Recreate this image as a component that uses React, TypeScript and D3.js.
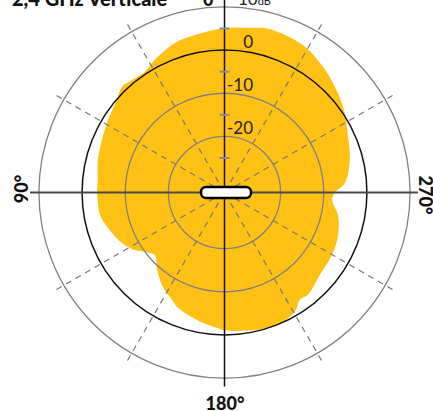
import * as d3 from 'd3';

// pattern: angle (deg, counter-clockwise from top) and gain (dB)
const patternAngles = [
  0, 10.6, 18.3, 23.6, 29.2, 33.4, 39.4, 44.2, 49.3, 58.1, 66.8, 75.6, 84.4, 90,
  100.2, 106.9, 116.2, 122.7, 126.8, 132, 138.2, 146, 154, 157.5, 167.8, 176.8, 180,
  193.3, 203, 210.5, 215.1, 219.2, 229.2, 239.8, 249.5, 258.8, 266, 270,
  274.5, 284.5, 294.2, 305.8, 317.6, 323.6, 332, 344.4, 351.2,
];
const patternGain = [
  0.1, -0.9, -1.5, -2.5, -3.6, -4.5, -4.3, -3.9, -5.1, -6.2, -7.1, -7.7, -8.5, -8.5,
  -8.7, -9.8, -11.5, -13.3, -15.0, -16.3, -14.5, -12.1, -10.3, -9.3, -7.8, -6.6, -6.1,
  -5.3, -5.1, -5.9, -7.6, -7.4, -8.8, -9.2, -9.9, -11.2, -13, -12.4,
  -10, -8, -6.6, -4.1, -1.8, -0.7, 0.7, 1.3, 0.6,
];

const ringLevels = [5, -5, -15, -25];
const tickLevels = [0, -10, -20, -30];
const tickLabels = ['0', '-10', '-20'];
const dashedAngles = [30, 60, 120, 150, 210, 240, 300, 330];

const W = 433;
const H = 411;
const cx = 224.5;
const cy = 192.5;
const YELLOW = '#FFC114';

export default function App() {
  const r = d3.scaleLinear().domain([-38, 0]).range([0, 164]);
  const toRad = (deg: number) => (deg * Math.PI) / 180;

  const points = patternAngles.map((a, i) => [a, patternGain[i]] as [number, number]);
  const pattern = d3
    .lineRadial<[number, number]>()
    .angle((d) => -toRad(d[0]))
    .radius((d) => r(d[1]))
    .curve(d3.curveCatmullRomClosed.alpha(0.5))(points) ?? '';

  const dashEnd = 195;

  return (
    <svg
      width={W}
      height={H}
      viewBox={`0 0 ${W} ${H}`}
      style={{ position: 'absolute', left: 0, top: 0, background: '#fff' }}
    >
      <g transform={`translate(${cx},${cy})`}>
        <path d={pattern} fill={YELLOW} />

        {ringLevels.map((lv) => (
          <circle
            key={lv}
            r={r(lv)}
            fill="none"
            stroke={lv === -5 ? '#111' : '#808080'}
            strokeWidth={lv === -5 ? 1.5 : 1.3}
          />
        ))}

        {dashedAngles.map((a) => (
          <line
            key={a}
            x1={0}
            y1={0}
            x2={-Math.sin(toRad(a)) * dashEnd}
            y2={-Math.cos(toRad(a)) * dashEnd}
            stroke="#777"
            strokeWidth={1.2}
            strokeDasharray="6,5"
            strokeDashoffset={-12}
          />
        ))}

        <line x1={-194.5} x2={193.5} y1={0} y2={0} stroke="#4a4a4a" strokeWidth={1.8} />
        <line x1={0} x2={0} y1={-197} y2={194} stroke="#111" strokeWidth={1.5} />

        {tickLevels.map((lv) => (
          <line key={lv} x1={-5} x2={5} y1={-r(lv)} y2={-r(lv)} stroke="#888" strokeWidth={2} />
        ))}

        {tickLabels.map((t, i) => (
          <text
            key={t}
            x={28.5}
            y={-r(tickLevels[i]) + 19}
            textAnchor="end"
            fontFamily="Lato, sans-serif"
            fontSize={17}
            fill="#222"
          >
            {t}
          </text>
        ))}

        <rect x={-23.5} y={-5.5} width={50} height={11} rx={5} fill="#fff" stroke="#000" strokeWidth={2.5} />
      </g>

      <text x={12} y={5.5} fontFamily="Lato, sans-serif" fontWeight={900} fontSize={20} fill="#111">
        2,4 GHz Verticale
      </text>
      <text x={221} y={5.5} textAnchor="end" fontFamily="Lato, sans-serif" fontWeight={900} fontSize={18} fill="#111">
        0°
      </text>
      <text x={238} y={4.5} fontFamily="Lato, sans-serif" fontSize={17} fill="#222">
        10<tspan fontSize={11}>dB</tspan>
      </text>
      <text x={225} y={410} textAnchor="middle" fontFamily="Lato, sans-serif" fontWeight={900} fontSize={18} fill="#111">
        180°
      </text>
      <text
        transform="translate(28,189) rotate(-90)"
        textAnchor="middle"
        fontFamily="Lato, sans-serif"
        fontWeight={900}
        fontSize={18}
        fill="#111"
      >
        90°
      </text>
      <text
        transform="translate(419,195) rotate(90)"
        textAnchor="middle"
        fontFamily="Lato, sans-serif"
        fontWeight={900}
        fontSize={18}
        fill="#111"
      >
        270°
      </text>
    </svg>
  );
}
